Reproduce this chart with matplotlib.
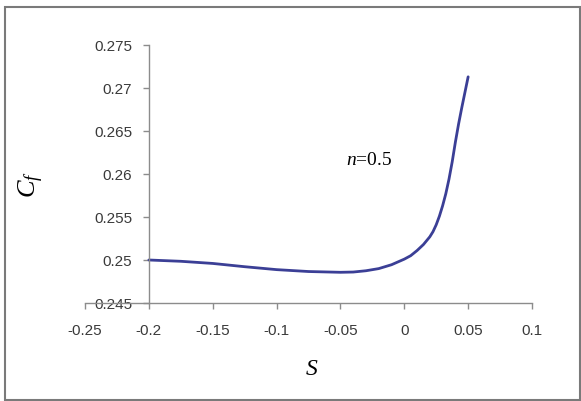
import matplotlib
matplotlib.use("Agg")
import matplotlib.pyplot as plt
from matplotlib.patches import Rectangle

# Skin-friction coefficient versus suction/injection parameter S (n = 0.5)
s_values = [-0.2, -0.175, -0.15, -0.125, -0.1, -0.075, -0.05, -0.04, -0.03, -0.02, -0.01,
            0.0, 0.005, 0.01, 0.015, 0.02, 0.0225, 0.025, 0.0275, 0.03, 0.0325, 0.035,
            0.0375, 0.04, 0.0425, 0.045, 0.0475, 0.05]
cf_values = [0.2500, 0.24985, 0.2496, 0.24922, 0.24888, 0.24866, 0.24857, 0.2486, 0.24875,
             0.2490, 0.24945, 0.2501, 0.2505, 0.2511, 0.2518, 0.2527, 0.2533, 0.2541,
             0.2551, 0.2563, 0.2577, 0.2594, 0.2614, 0.2637, 0.2658, 0.2677, 0.2695, 0.2713]

x_ticks = [-0.25, -0.2, -0.15, -0.1, -0.05, 0, 0.05, 0.1]
x_tick_labels = ["-0.25", "-0.2", "-0.15", "-0.1", "-0.05", "0", "0.05", "0.1"]
y_ticks = [0.245, 0.25, 0.255, 0.26, 0.265, 0.27, 0.275]
y_tick_labels = ["0.245", "0.25", "0.255", "0.26", "0.265", "0.27", "0.275"]

plt.rcParams["mathtext.fontset"] = "custom"
plt.rcParams["mathtext.rm"] = "Liberation Serif"
plt.rcParams["mathtext.it"] = "Liberation Serif:italic"

fig = plt.figure(figsize=(5.81, 4.01), dpi=100)
fig.patch.set_facecolor("white")

# outer chart frame
fig.add_artist(Rectangle((5 / 581, 1 / 401), 575 / 581, 393 / 401,
                         transform=fig.transFigure, fill=False,
                         edgecolor="#7a7a7a", linewidth=1.5))

ax = fig.add_axes([85 / 581, 1 - 303 / 401, (532 - 85) / 581, (303 - 45) / 401])
ax.plot(s_values, cf_values, color="#3b3f96", linewidth=2.0,
        solid_capstyle="round", solid_joinstyle="round")

ax.set_xlim(-0.25, 0.1)
ax.set_ylim(0.245, 0.275)

axis_grey = "#8c8c8c"
for side in ("top", "right"):
    ax.spines[side].set_visible(False)
ax.spines["left"].set_position(("data", -0.2))
ax.spines["left"].set_color(axis_grey)
ax.spines["bottom"].set_color(axis_grey)
ax.spines["left"].set_linewidth(1.0)
ax.spines["bottom"].set_linewidth(1.0)

ax.set_xticks(x_ticks)
ax.set_xticklabels(x_tick_labels)
ax.set_yticks(y_ticks)
ax.set_yticklabels(y_tick_labels)
ax.tick_params(axis="both", colors=axis_grey, length=4, width=1.0,
               labelcolor="#3a3a3a", labelsize=11)
ax.tick_params(axis="x", pad=11)
ax.tick_params(axis="y", pad=8)
for lbl in ax.get_xticklabels() + ax.get_yticklabels():
    lbl.set_family("Liberation Sans")

ax.text(-0.046, 0.2616, r"$n$=0.5", family="Liberation Serif", fontsize=14,
        color="black", ha="left", va="center")

fig.text(31 / 581, 1 - 185 / 401, r"$C_f$", fontsize=19, rotation=90,
         ha="center", va="center", color="black")
fig.text(312 / 581, 1 - 368 / 401, r"$S$", fontsize=17,
         ha="center", va="center", color="black")

fig.savefig("out.png", dpi=100, facecolor="white")
